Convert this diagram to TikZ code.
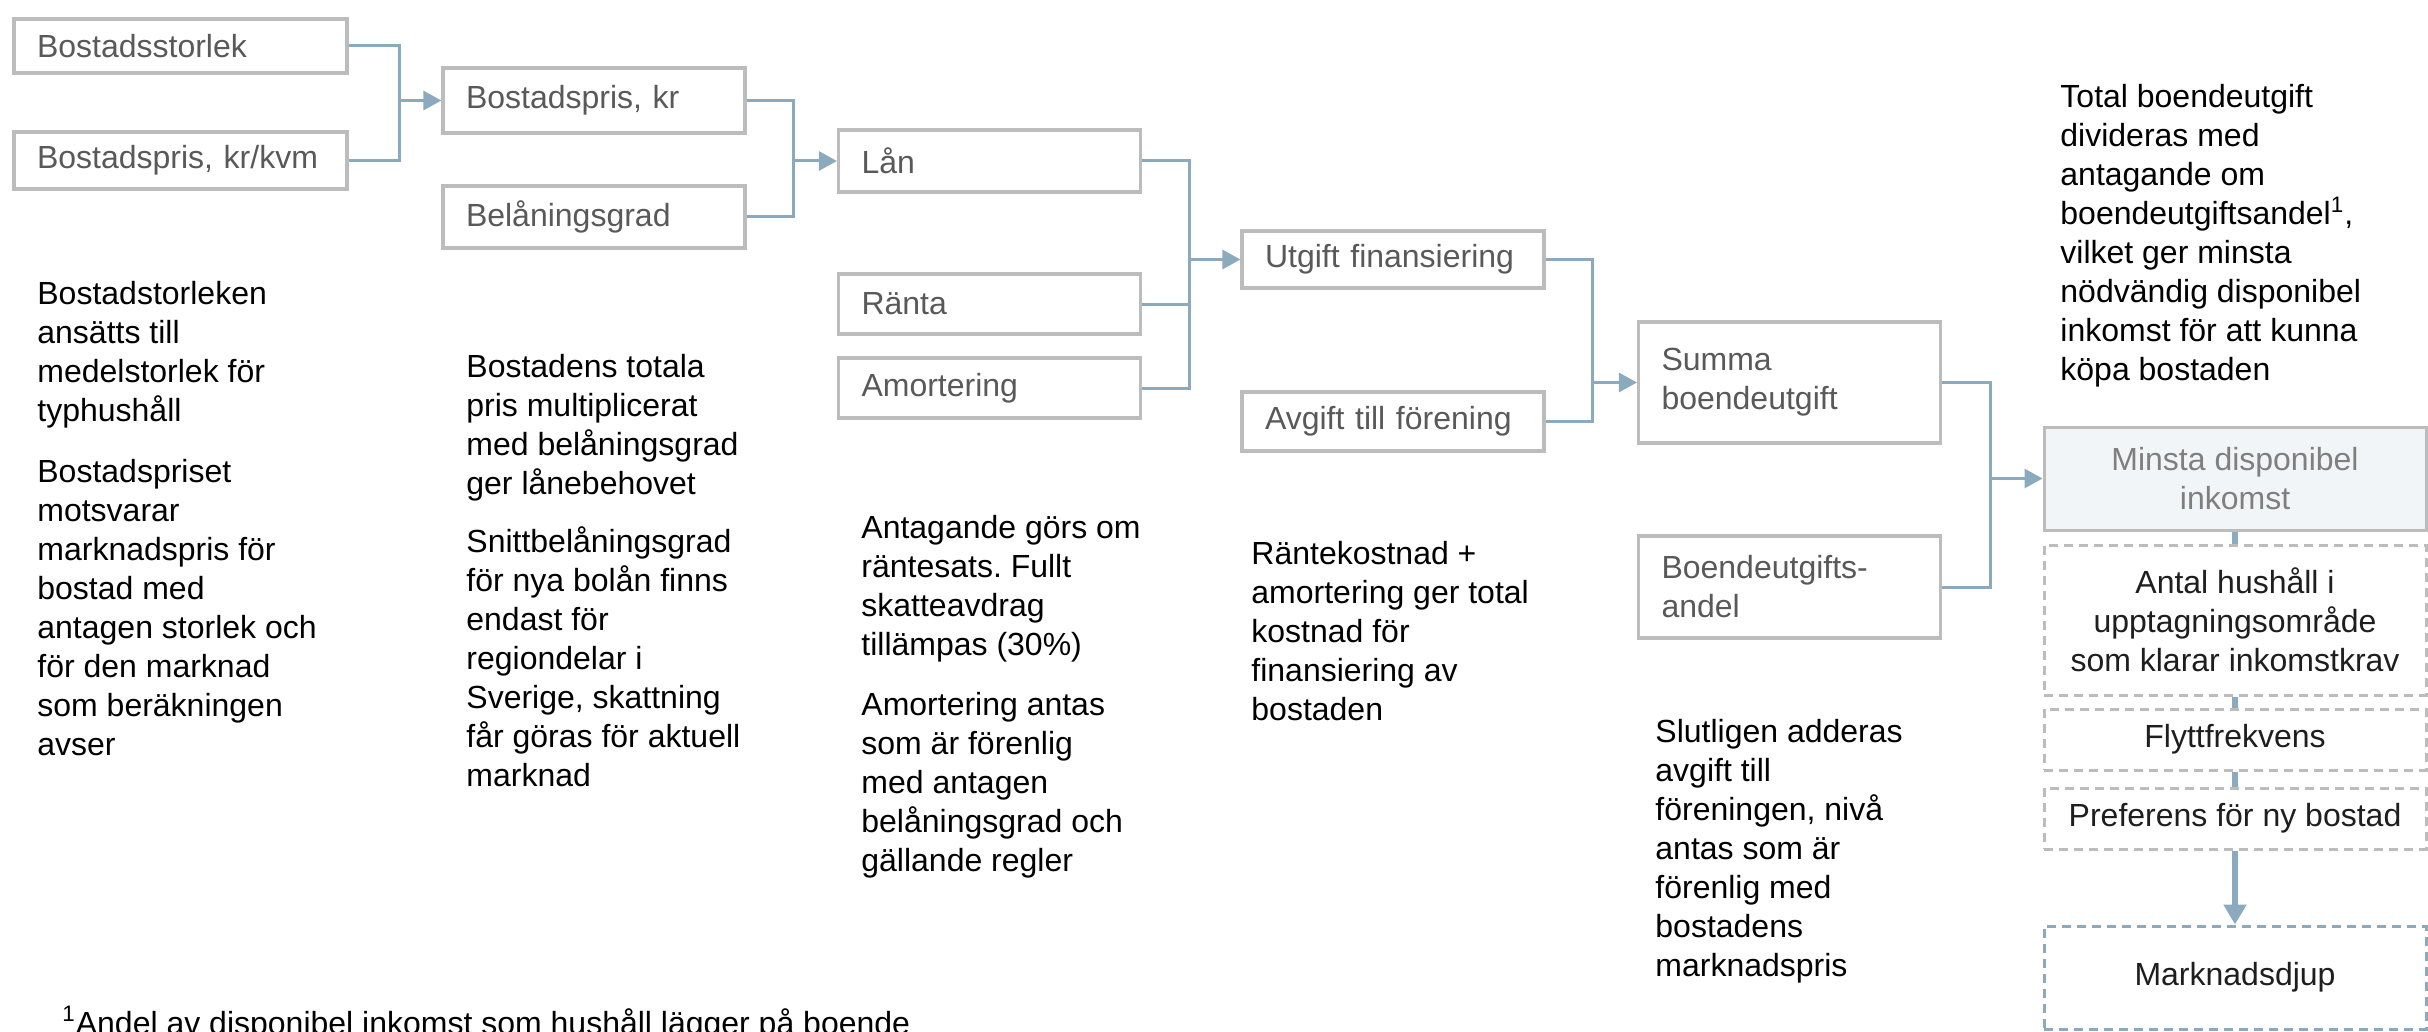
\documentclass[tikz,border=0pt]{standalone}
\usepackage{fontspec}
\setmainfont{Liberation Sans}
\usetikzlibrary{arrows.meta}
\definecolor{boxline}{RGB}{188,188,188}
\definecolor{boxtext}{RGB}{89,89,89}
\definecolor{conn}{RGB}{139,170,190}
\definecolor{minfill}{RGB}{242,245,247}
\definecolor{mintext}{RGB}{127,127,127}
\definecolor{dtext}{RGB}{30,30,30}
\newcommand{\mylines}[1]{\parbox[t]{300pt}{\raggedright #1}}
\frenchspacing
\begin{document}
\begin{tikzpicture}[x=0.5pt,y=-0.5pt,
  every node/.style={font=\fontsize{16pt}{19.5pt}\selectfont},
  box/.style={draw=boxline, line width=1.6pt, fill=white, text=boxtext, inner xsep=11.5pt, inner ysep=0pt, align=left},
  colA/.style={box, minimum width=166.5pt, text width=143.5pt},
  colB/.style={box, minimum width=151pt, text width=128pt},
  rbox/.style={line width=1.5pt, inner sep=0pt, minimum width=191pt, align=center, text=dtext},
  dbox/.style={rbox, draw=boxline, dash pattern=on 4.5pt off 3pt},
  conn/.style={draw=conn, line width=1.5pt},
  arr/.style={conn, -{Triangle[length=9pt,width=9.5pt]}},
  bar/.style={draw=conn, line width=3pt},
  bigarr/.style={draw=conn, line width=3pt, -{Triangle[length=10pt,width=11pt]}},
  txt/.style={anchor=base west, inner sep=0pt, text=black}
]
\useasboundingbox (0,0) rectangle (2428,1032);
\fill[white] (0,0) rectangle (2428,1032);

% coordinates for the junction lines
\coordinate (j1) at (399.5,0);
\coordinate (j2) at (793,0);
\coordinate (j3) at (1189,0);
\coordinate (j4) at (1592,0);
\coordinate (j5) at (1990,0);

% boxes
\node[colA, minimum height=27pt] (b1) at (180.5,46) {Bostadsstorlek};
\node[colA, minimum height=28.5pt] (b2) at (180.5,160.5) {Bostadspris, kr/kvm};
\node[colB, minimum height=32.5pt] (b3) at (594,100.5) {Bostadspris, kr};
\node[colB, minimum height=31pt] (b4) at (594,217) {Belåningsgrad};
\node[colB, minimum height=31pt] (b5) at (989.5,161) {Lån};
\node[colB, minimum height=30pt] (b6) at (989.5,304) {Ränta};
\node[colB, minimum height=30pt] (b7) at (989.5,388) {Amortering};
\node[colB, minimum height=28.5pt] (b8) at (1393,259.5) {Utgift finansiering};
\node[colB, minimum height=29.5pt] (b9) at (1393,421.5) {Avgift till förening};
\node[colB, minimum height=60.5pt] (b10) at (1789.5,382.5) {Summa\\boendeutgift};
\node[colB, minimum height=51pt] (b11) at (1789.5,587) {Boendeutgifts-\\andel};

\node[rbox, draw=boxline, fill=minfill, text=mintext, minimum height=51.5pt] (b12) at (2235,478.5) {Minsta disponibel\\inkomst};
\node[dbox, minimum height=75pt] (b13) at (2235,620) {Antal hushåll i\\upptagningsområde\\som klarar inkomstkrav};
\node[dbox, minimum height=30.5pt] (b14) at (2235,739.5) {Flyttfrekvens};
\node[dbox, minimum height=30.5pt] (b15) at (2235,818.5) {Preferens för ny bostad};
\node[rbox, draw=conn, dash pattern=on 4.5pt off 3pt, minimum height=51.5pt] (b16) at (2235,977.5) {Marknadsdjup};

% connectors
\draw[conn] (b1.east) -- (b1.east -| j1) -- (b2.east -| j1) -- (b2.east);
\draw[arr] (b3.west -| j1) -- (b3.west);
\draw[conn] (b3.east) -- (b3.east -| j2) -- (b4.east -| j2) -- (b4.east);
\draw[arr] (b5.west -| j2) -- (b5.west);
\draw[conn] (b5.east) -- (b5.east -| j3) -- (b7.east -| j3) -- (b7.east);
\draw[conn] (b6.east) -- (b6.east -| j3);
\draw[arr] (b8.west -| j3) -- (b8.west);
\draw[conn] (b8.east) -- (b8.east -| j4) -- (b9.east -| j4) -- (b9.east);
\draw[arr] (b10.west -| j4) -- (b10.west);
\draw[conn] (b10.east) -- (b10.east -| j5) -- (b11.east -| j5) -- (b11.east);
\draw[arr] (b12.west -| j5) -- (b12.west);
\draw[bar] (b12.south) -- (b13.north);
\draw[bar] (b13.south) -- (b14.north);
\draw[bar] (b14.south) -- (b15.north);
\draw[bigarr] (b15.south) -- (b16.north);

% explanatory texts
\node[txt] (t1) at (37,304) {\mylines{Bostadstorleken\\ansätts till\\medelstorlek för\\typhushåll}};
\node[txt] (t2) at (37,482) {\mylines{Bostadspriset\\motsvarar\\marknadspris för\\bostad med\\antagen storlek och\\för den marknad\\som beräkningen\\avser}};
\node[txt] (t3) at (466,377) {\mylines{Bostadens totala\\pris multiplicerat\\med belåningsgrad\\ger lånebehovet}};
\node[txt] (t4) at (466,552) {\mylines{Snittbelåningsgrad\\för nya bolån finns\\endast för\\regiondelar i\\Sverige, skattning\\får göras för aktuell\\marknad}};
\node[txt] (t5) at (861,538) {\mylines{Antagande görs om\\räntesats. Fullt\\skatteavdrag\\tillämpas (30\%)}};
\node[txt] (t6) at (861,715) {\mylines{Amortering antas\\som är förenlig\\med antagen\\belåningsgrad och\\gällande regler}};
\node[txt] (t7) at (1251,564) {\mylines{Räntekostnad +\\amortering ger total\\kostnad för\\finansiering av\\bostaden}};
\node[txt] (t8) at (1655,742) {\mylines{Slutligen adderas\\avgift till\\föreningen, nivå\\antas som är\\förenlig med\\bostadens\\marknadspris}};
\node[txt] (t9) at (2060,108) {\mylines{Total boendeutgift\\divideras med\\antagande om\\boendeutgiftsandel\textsuperscript{1},\\vilket ger minsta\\nödvändig disponibel\\inkomst för att kunna\\köpa bostaden}};
\node[txt] (fn) at (62,1034) {\textsuperscript{1}Andel av disponibel inkomst som hushåll lägger på boende};
\end{tikzpicture}
\end{document}
